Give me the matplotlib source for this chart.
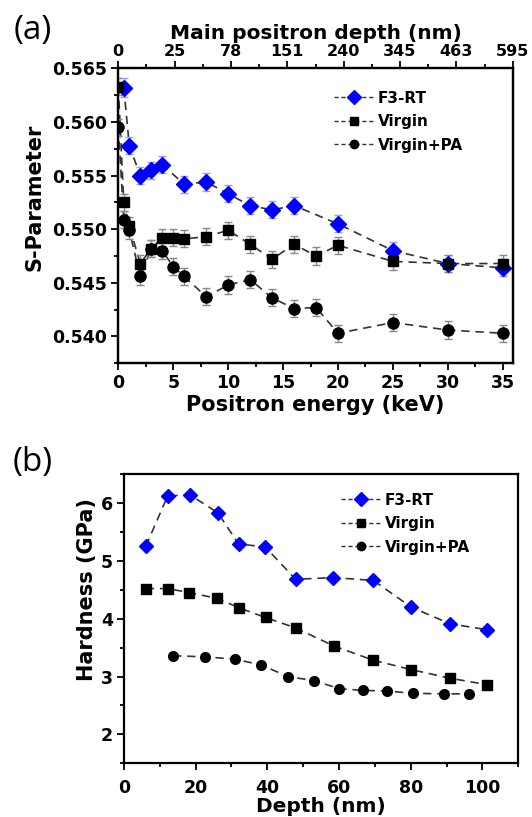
import numpy as np
import matplotlib
matplotlib.use("Agg")
import matplotlib.pyplot as plt
from matplotlib.ticker import MultipleLocator, FixedLocator, FormatStrFormatter
from matplotlib.lines import Line2D

plt.rcParams['font.family'] = ['DejaVu Sans']
plt.rcParams['font.weight'] = 'bold'

# ---------------- Panel (a) data ----------------
energy_f3 = [0.5, 1, 2, 3, 4, 6, 8, 10, 12, 14, 16, 20, 25, 30, 35]
s_f3 = [0.5632, 0.5578, 0.5550, 0.5555, 0.5560, 0.5542, 0.5544, 0.5533, 0.5522,
        0.5518, 0.5522, 0.5505, 0.5480, 0.5468, 0.5464]
err_f3 = [0.0009, 0.0008, 0.0008, 0.0008, 0.0008, 0.0008, 0.0008, 0.0008, 0.0008,
          0.0008, 0.0008, 0.0008, 0.0008, 0.0008, 0.0008]

energy_virgin = [0, 0.5, 1, 2, 3, 4, 5, 6, 8, 10, 12, 14, 16, 18, 20, 25, 30, 35]
s_virgin = [0.5633, 0.5525, 0.5503, 0.5468, 0.5482, 0.5492, 0.5492, 0.5491, 0.5493,
            0.5499, 0.5486, 0.5472, 0.5486, 0.5475, 0.5485, 0.5470, 0.5468, 0.5468]
err_virgin = [0.0008] * 18

energy_pa = [0, 0.5, 1, 2, 3, 4, 5, 6, 8, 10, 12, 14, 16, 18, 20, 25, 30, 35]
s_pa = [0.5595, 0.5509, 0.5499, 0.5456, 0.5482, 0.5480, 0.5465, 0.5456, 0.5437,
        0.5448, 0.5453, 0.5436, 0.5426, 0.5427, 0.5403, 0.5413, 0.5406, 0.5403]
err_pa = [0.0008] * 18

top_tick_labels = ['0', '25', '78', '151', '240', '345', '463', '595']

# ---------------- Panel (b) data ----------------
depth_f3 = [6.1, 12.2, 18.4, 26.2, 32.0, 39.4, 47.9, 58.4, 69.6, 80.1, 91.0, 101.2]
hard_f3 = [5.25, 6.12, 6.14, 5.83, 5.29, 5.24, 4.68, 4.71, 4.66, 4.20, 3.91, 3.81]

depth_virgin = [6.1, 12.2, 18.2, 26.1, 32.0, 39.5, 47.9, 58.5, 69.6, 80.1, 91.0, 101.2]
hard_virgin = [4.52, 4.52, 4.45, 4.35, 4.19, 4.02, 3.84, 3.53, 3.28, 3.12, 2.97, 2.86]

depth_pa = [13.7, 22.6, 30.9, 38.3, 45.7, 52.9, 60.1, 66.6, 73.3, 80.5, 89.3, 96.3]
hard_pa = [3.36, 3.34, 3.30, 3.20, 3.00, 2.93, 2.79, 2.76, 2.75, 2.71, 2.70, 2.70]

labels = ['F3-RT', 'Virgin', 'Virgin+PA']

W, H = 532, 817
fig = plt.figure(figsize=(W / 100, H / 100), dpi=100)

def frac_axes(l, r, t, b):
    return fig.add_axes([l / W, 1 - b / H, (r - l) / W, (b - t) / H])

dash = (0, (5, 3.5))
lc = '#333333'
blue = '#0000FF'
TICK = 12.5
LAB = 15

def style_axes(ax):
    ax.tick_params(axis='both', which='major', length=5, width=1.3,
                   labelsize=TICK, pad=3)
    ax.tick_params(axis='both', which='minor', length=3, width=1.3)
    for sp in ax.spines.values():
        sp.set_linewidth(1.6)

def legend_handles():
    return [Line2D([], [], marker='D', markersize=7, color=lc, mfc=blue, mec=blue,
                   linestyle=(0, (3, 2)), linewidth=1),
            Line2D([], [], marker='s', markersize=6, color=lc, mfc='black',
                   mec='black', linestyle=(0, (3, 2)), linewidth=1),
            Line2D([], [], marker='o', markersize=6, color=lc, mfc='black',
                   mec='black', linestyle=(0, (3, 2)), linewidth=1)]

# ---------- Panel (a) ----------
axa = frac_axes(118.3, 512.7, 68.3, 363.3)
axa.plot(energy_f3, s_f3, color=lc, linestyle=dash, linewidth=1.2, zorder=2)
axa.errorbar(energy_f3, s_f3, yerr=err_f3, marker='D', markersize=8, color=blue,
             mfc=blue, mec=blue, ecolor='#9999ff', elinewidth=1, capsize=3,
             capthick=1, linestyle='none', zorder=3)
axa.plot(energy_virgin, s_virgin, color=lc, linestyle=dash, linewidth=1.2, zorder=2)
axa.errorbar(energy_virgin, s_virgin, yerr=err_virgin, marker='s', markersize=7,
             color='black', ecolor='#888888', elinewidth=1, capsize=3, capthick=1,
             linestyle='none', zorder=3)
axa.plot(energy_pa, s_pa, color=lc, linestyle=dash, linewidth=1.2, zorder=2)
axa.errorbar(energy_pa, s_pa, yerr=err_pa, marker='o', markersize=8,
             color='black', ecolor='#888888', elinewidth=1, capsize=3, capthick=1,
             linestyle='none', zorder=3)

axa.set_xlim(0, 35.9)
axa.set_ylim(0.5375, 0.565)
axa.xaxis.set_major_locator(MultipleLocator(5))
axa.xaxis.set_minor_locator(MultipleLocator(2.5))
axa.yaxis.set_major_locator(MultipleLocator(0.005))
axa.yaxis.set_minor_locator(MultipleLocator(0.0025))
axa.yaxis.set_major_formatter(FormatStrFormatter('%.3f'))
style_axes(axa)
axa.tick_params(right=False, top=False)
axa.set_xlabel('Positron energy (keV)', fontsize=LAB, fontweight='bold', labelpad=2)
axa.set_ylabel('S-Parameter', fontsize=LAB, fontweight='bold')
axa.yaxis.label.set_va('center')
axa.yaxis.set_label_coords((35 - 118.3) / 394.4, (363.3 - 197.5) / 295.0)

top = axa.twiny()
top.set_xlim(axa.get_xlim())
ticks_top = np.linspace(0, 35.9, len(top_tick_labels))
top.xaxis.set_major_locator(FixedLocator(ticks_top))
top.xaxis.set_minor_locator(FixedLocator((ticks_top[:-1] + ticks_top[1:]) / 2))
top.set_xticklabels(top_tick_labels)
style_axes(top)
top.tick_params(axis='x', which='major', labelsize=11.5, pad=2)
top.set_xlabel('Main positron depth (nm)', fontsize=14.5, fontweight='bold',
               labelpad=3)

axa.legend(legend_handles(), labels, loc='upper left',
           bbox_to_anchor=(320 / W, 1 - 77 / H), bbox_transform=fig.transFigure,
           frameon=False, fontsize=11, handlelength=2.6, handletextpad=0.3,
           labelspacing=0.55, numpoints=1)

# ---------- Panel (b) ----------
axb = frac_axes(123.9, 518.3, 474.0, 763.3)
axb.plot(depth_f3, hard_f3, marker='D', markersize=7.5, color=lc,
         mfc=blue, mec=blue, linestyle=dash, linewidth=1.2)
axb.plot(depth_virgin, hard_virgin, marker='s', markersize=6.5, color=lc,
         mfc='black', mec='black', linestyle=dash, linewidth=1.2)
axb.plot(depth_pa, hard_pa, marker='o', markersize=7, color=lc,
         mfc='black', mec='black', linestyle=dash, linewidth=1.2)
axb.set_xlim(0, 110)
axb.set_ylim(1.5, 6.5)
axb.xaxis.set_major_locator(MultipleLocator(20))
axb.xaxis.set_minor_locator(MultipleLocator(10))
axb.yaxis.set_major_locator(MultipleLocator(1))
axb.yaxis.set_minor_locator(MultipleLocator(0.5))
style_axes(axb)
axb.tick_params(axis='x', which='major', pad=6)
axb.set_xlabel('Depth (nm)', fontsize=14.5, fontweight='bold', labelpad=0)
axb.set_ylabel('Hardness (GPa)', fontsize=LAB, fontweight='bold')
axb.yaxis.label.set_va('center')
axb.yaxis.set_label_coords((87 - 123.9) / 394.4, (763.3 - 590) / 289.3)

axb.legend(legend_handles(), labels, loc='upper left',
           bbox_to_anchor=(327 / W, 1 - 479 / H), bbox_transform=fig.transFigure,
           frameon=False, fontsize=11, handlelength=2.6, handletextpad=0.3,
           labelspacing=0.55, numpoints=1)

fig.text(14 / W, 1 - 30 / H, '(a)', fontsize=24, fontweight='normal',
         family=['Open Sans', 'DejaVu Sans'], va='center', ha='left')
fig.text(13 / W, 1 - 462 / H, '(b)', fontsize=24, fontweight='normal',
         family=['Open Sans', 'DejaVu Sans'], va='center', ha='left')

fig.savefig('out.png', dpi=100)
